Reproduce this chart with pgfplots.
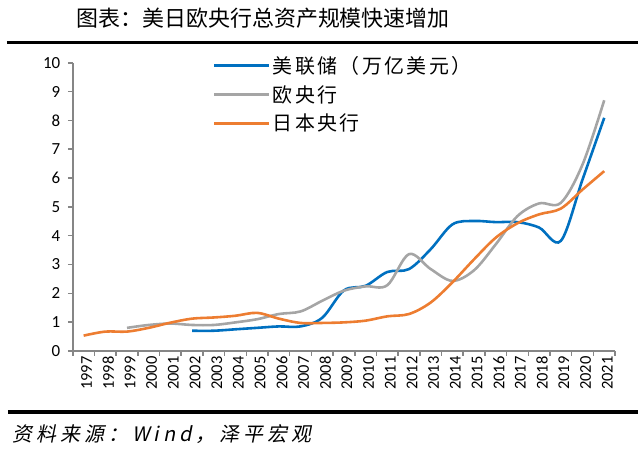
\documentclass[border=0pt]{standalone}
\usepackage{fontspec}
\usepackage{pgfplots}
\pgfplotsset{compat=1.18}
\setmainfont{Carlito}
\newfontfamily\cjk{Noto Sans CJK SC}
\newfontfamily\cjklg[LetterSpace=12]{Noto Sans CJK SC}
\newfontfamily\cjkit[FakeSlant=0.2, LetterSpace=20]{Noto Sans CJK SC}

\definecolor{fedblue}{RGB}{0,112,192}
\definecolor{ecbgray}{RGB}{165,165,165}
\definecolor{bojorange}{RGB}{237,125,49}
\definecolor{axgray}{RGB}{134,134,134}

\begin{document}
\begin{tikzpicture}[x=1pt,y=1pt]
\path (0,0) rectangle (640,452);

% title and rules
\node[font=\cjk\fontsize{22}{22}\selectfont] at (264,434) {图表：美日欧央行总资产规模快速增加};
\draw[line width=3pt] (7,409) -- (640,409);
\draw[line width=4pt] (8,38.5) -- (640,38.5);
\node[anchor=west, font=\cjkit\fontsize{20}{20}\selectfont] at (9,17) {资料来源：Wind，泽平宏观};

\begin{axis}[%
at={(73pt,100pt)},
anchor=south west,
width=544pt,
height=289pt,
scale only axis,
xmin=-0.5,
xmax=24.5,
ymin=0,
ymax=10,
axis x line*=bottom,
axis y line*=left,
axis line style={draw=axgray, line width=1.5pt, -},
xtick={0,...,24},
xticklabels={1997,1998,1999,2000,2001,2002,2003,2004,2005,2006,2007,2008,2009,2010,2011,2012,2013,2014,2015,2016,2017,2018,2019,2020,2021},
minor xtick={-0.5,0.5,...,24.5},
major x tick style={draw=none},
minor x tick style={draw=axgray, line width=1.5pt},
minor tick length=5pt,
ytick={0,1,...,10},
y tick style={draw=axgray, line width=1.5pt},
major tick length=5pt,
tick align=outside,
/pgf/number format/assume math mode=true,
xticklabel style={font=\fontsize{16.5}{16.5}\selectfont, rotate=90, anchor=east, xshift=3pt, yshift=-3pt},
yticklabel style={font=\fontsize{17}{17}\selectfont, xshift=-4pt},
legend style={draw=none, fill=none, at={(rel axis cs:0.258,1.03)}, anchor=north west,
  inner sep=0pt, row sep=6.5pt, nodes={inner sep=2pt},
  font=\cjklg\fontsize{20}{20}\selectfont},
legend cell align=left,
legend image code/.code={\draw[#1, line width=3pt] (0pt,0pt) -- (55pt,0pt);},
every axis plot/.append style={line width=2.6pt, smooth, tension=0.55},
clip=false
]
\addplot [color=fedblue]
table[row sep=crcr]{
5 0.70\\
6 0.70\\
7 0.75\\
8 0.80\\
9 0.85\\
10 0.85\\
11 1.15\\
12 2.10\\
13 2.26\\
14 2.74\\
15 2.84\\
16 3.53\\
17 4.39\\
18 4.51\\
19 4.47\\
20 4.47\\
21 4.28\\
22 3.82\\
23 5.95\\
24 8.09\\
};
\addlegendentry{美联储（万亿美元）}
\addplot [color=ecbgray]
table[row sep=crcr]{
2 0.80\\
3 0.90\\
4 0.95\\
5 0.90\\
6 0.90\\
7 0.99\\
8 1.10\\
9 1.28\\
10 1.37\\
11 1.74\\
12 2.09\\
13 2.24\\
14 2.28\\
15 3.36\\
16 2.84\\
17 2.43\\
18 2.80\\
19 3.70\\
20 4.68\\
21 5.12\\
22 5.14\\
23 6.47\\
24 8.70\\
};
\addlegendentry{欧央行}
\addplot [color=bojorange]
table[row sep=crcr]{
0 0.53\\
1 0.67\\
2 0.67\\
3 0.80\\
4 0.98\\
5 1.12\\
6 1.16\\
7 1.22\\
8 1.32\\
9 1.12\\
10 0.97\\
11 0.97\\
12 0.99\\
13 1.05\\
14 1.20\\
15 1.28\\
16 1.68\\
17 2.38\\
18 3.18\\
19 3.93\\
20 4.43\\
21 4.74\\
22 4.94\\
23 5.60\\
24 6.24\\
};
\addlegendentry{日本央行}
\end{axis}
\end{tikzpicture}
\end{document}
